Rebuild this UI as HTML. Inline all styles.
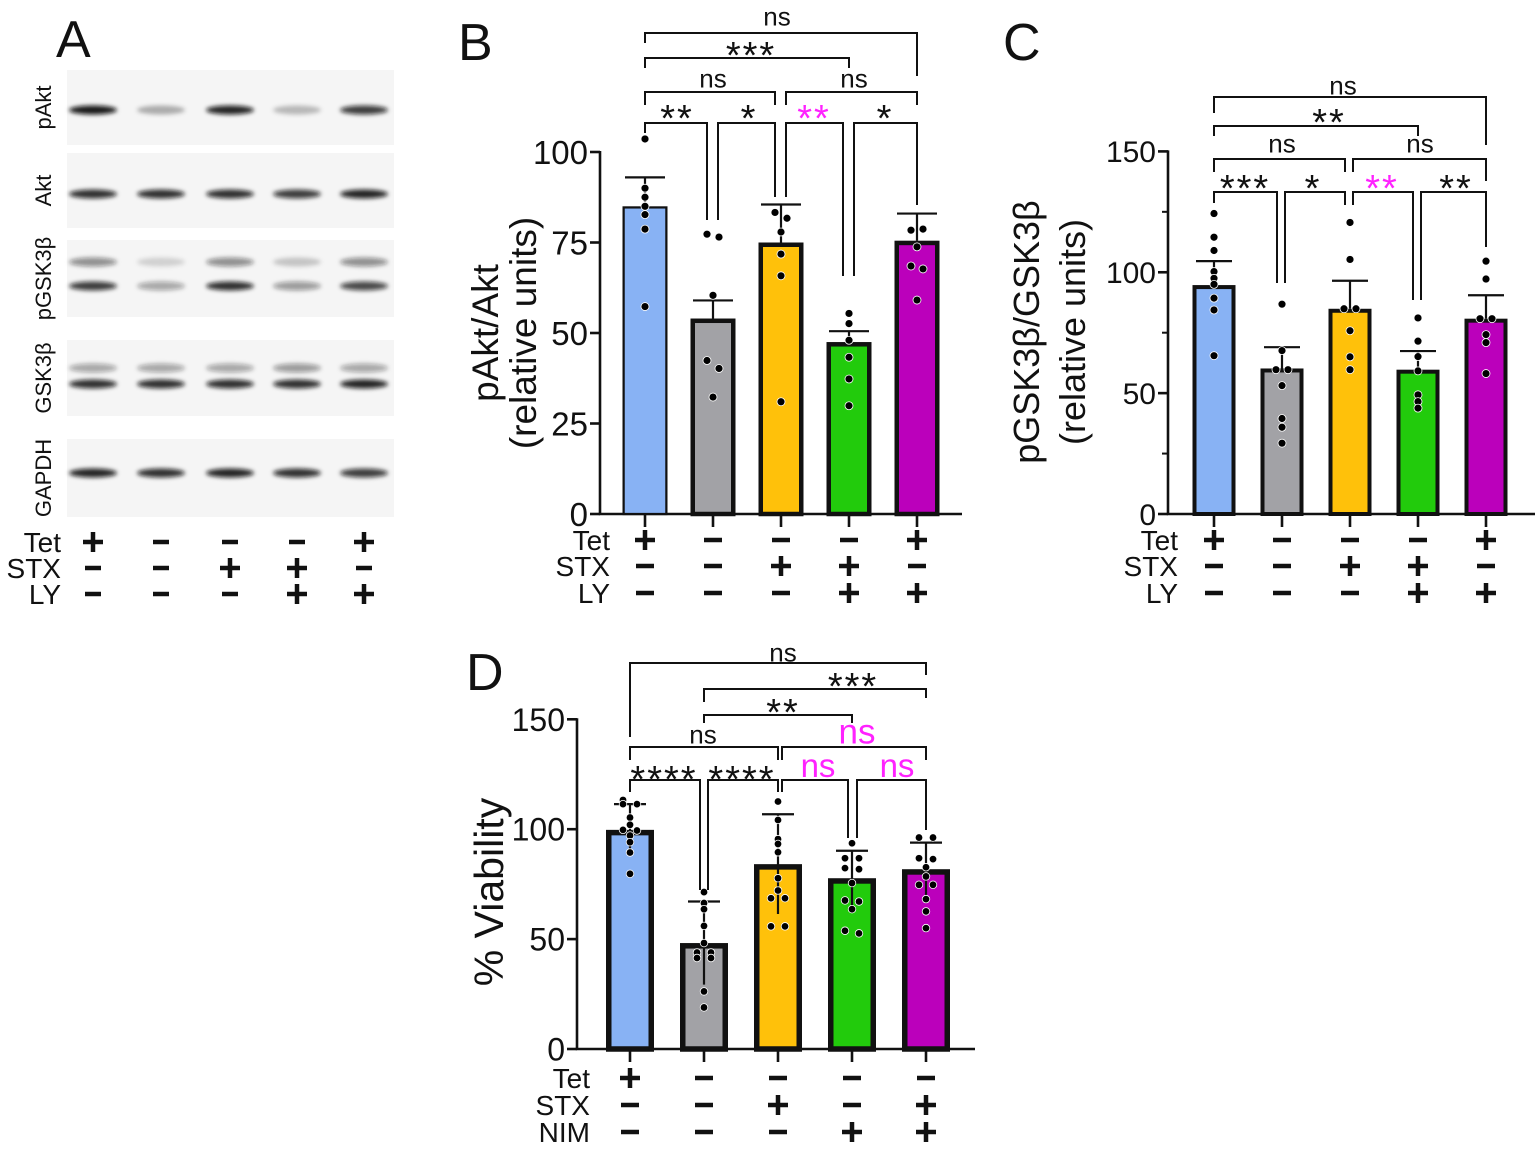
<!DOCTYPE html>
<html><head><meta charset="utf-8"><style>
html,body{margin:0;padding:0;background:#fff;}
svg{display:block;font-family:"Liberation Sans",Arial,sans-serif;}
</style></head><body>
<svg id="fig" width="1535" height="1152" viewBox="0 0 1535 1152" xmlns="http://www.w3.org/2000/svg">
<defs><filter id="blur" x="-20%" y="-200%" width="140%" height="500%"><feGaussianBlur stdDeviation="2.2"/></filter></defs>
</svg>
<script>
// ---------- DATA ----------
const colors = ["#88b2f4","#a2a2a6","#ffc10a","#22cb0c","#bb00bb"];
// Panel B
const bMeans = [85, 54, 75, 47.5, 75.5];
const bErr = [8, 5, 10.5, 3, 7.5];
const bPoints = [[103.6,90,87.5,85,82.7,78.7,57.3],[77.3,76.5,60.4,42.4,40.2,32.3],[83.3,81.7,77.9,71.8,65.8,31],[55.4,52.6,48,43.3,37.3,29.9],[78.4,78.7,73.8,68.5,67.7,59.1]];
const bTicks = [0,25,50,75,100];
const bRows = [["Tet","+","−","−","−","+"],["STX","−","−","+","+","−"],["LY","−","−","−","+","+"]];
// Panel C
const cMeans = [94.7, 60.2, 84.9, 59.7, 80.8];
const cErr = [9.9, 8.8, 11.6, 7.7, 9.7];
const cPoints = [[124.3,114.5,109,100.3,97.5,95,89.3,84.4,65.5],[86.8,67.6,59.7,59.7,53.1,39.5,35.9,29.3],[120.6,105.3,84.9,84.9,75.8,65,59.7],[81.1,71.5,65.1,59.2,49.3,46.5,43.8],[104.6,97.2,80.8,80.8,74.2,70.9,58.1]];
const cTicks = [0,50,100,150];
const cRows = bRows;
// Panel D
const dMeans = [99.7, 48.2, 84.1, 77.7, 81.8];
const dErr = [11.7, 18.9, 22.7, 12.5, 12.1];
const dPoints = [[113.3,111.4,111.4,105.3,102,99.7,99.4,97.1,94.1,89.4,79.7],[71.4,66.4,63.6,56,48.2,43.9,43.9,41.4,41.4,26.2,18.9],[112.6,104.2,95.5,93.3,89.5,77.7,72.1,68.6,68.6,55.8,55.8],[93.6,86.8,86.8,82.3,81.8,75.5,67.6,67.1,63.6,53.8,52.6],[96.2,96.2,86.8,86.4,82.7,78.5,74.7,74.7,68.2,62.6,55]];
const dTicks = [0,50,100,150];
const dRows = [["Tet","+","−","−","−","−"],["STX","−","−","+","−","+"],["NIM","−","−","−","+","+"]];

// ---------- helpers ----------
const svg = document.getElementById('fig');
const NS = "http://www.w3.org/2000/svg";
function mk(tag, attrs, parent){
  const e = document.createElementNS(NS, tag);
  for (const k in attrs) e.setAttribute(k, attrs[k]);
  (parent||svg).appendChild(e);
  return e;
}
function txt(s, x, y, size, parent, extra){
  const t = mk('text', Object.assign({x:x, y:y, 'font-size':size, fill:'#111'}, extra||{}), parent);
  t.textContent = s;
  return t;
}

function panel(cfg){
  const g = mk('g', {});
  
  
  const yScale = v => cfg.y0 - (v/cfg.yMax)*(cfg.y0 - cfg.yTopPx);
  const xScale = i => cfg.x0c + i*cfg.step;
  const ax = mk('line',{x1:cfg.axX,y1:yScale(cfg.yMax)-1,x2:cfg.axX,y2:cfg.y0,stroke:'#111','stroke-width':cfg.axW},g);
  
  
  const xa = mk('line',{x1:cfg.axX-cfg.axW/2,y1:cfg.y0,x2:cfg.axEnd,y2:cfg.y0,stroke:'#111','stroke-width':cfg.axW},g);
  
  
  cfg.ticks.forEach(v=>{
    const y = yScale(v);
    mk('line',{x1:cfg.axX-10,y1:y,x2:cfg.axX,y2:y,stroke:'#111','stroke-width':cfg.axW},g);
    const t = txt(String(v), cfg.axX-12, y+cfg.tickFs*0.36, cfg.tickFs, g, {'text-anchor':'end'});
    
    
  });
  (cfg.minor||[]).forEach(v=>{
    const y = yScale(v);
    mk('line',{x1:cfg.axX-6,y1:y,x2:cfg.axX,y2:y,stroke:'#111','stroke-width':2},g);
  });
  cfg.means.forEach((m,i)=>{
    const cx = xScale(i), w = cfg.bw, sw = (i===0 && cfg.firstThin) ? cfg.bsw*0.5 : cfg.bsw;
    const r = mk('rect',{x:cx-w/2+sw/2,y:yScale(m)+sw/2,width:w-sw,height:cfg.y0-yScale(m)-sw/2,fill:colors[i],stroke:'#111','stroke-width':sw},g);
    
    
    mk('line',{x1:cx,y1:cfg.y0,x2:cx,y2:cfg.y0+13,stroke:'#111','stroke-width':cfg.axW},g);
    const lo = cfg.symErr ? m - cfg.err[i] : m;
    const eb = mk('path',{d:`M${cx},${yScale(lo)} V${yScale(m+cfg.err[i])} M${cx-cfg.cap},${yScale(m+cfg.err[i])} H${cx+cfg.cap}`,stroke:'#111','stroke-width':2.2,fill:'none'},g);
    
    
    const pts = cfg.points[i];
    pts.forEach((v,j)=>{
      let off = 0;
      const near = pts.filter((u,k)=>k!==j && Math.abs(u-v)<2.2).length;
      if (near>0){ const idx = pts.slice(0,j).filter(u=>Math.abs(u-v)<2.2).length; off = (idx%2===0?-1:1)*cfg.jit; }
      const c = mk('circle',{cx:cx+off,cy:yScale(v),r:cfg.pr,fill:'#000',stroke:'#fff','stroke-width':0.8},g);
      
      
    });
  });
  cfg.rows.forEach((row,ri)=>{
    const y = cfg.rowY[ri];
    const l = txt(row[0], cfg.rowLabX, y+10, 28, g, {'text-anchor':'end'});
    
    
    row.slice(1).forEach((s,i)=>{
      const cx = xScale(i);
      if (s==='+'){
        mk('path',{d:`M${cx-10},${y} H${cx+10} M${cx},${y-10} V${y+10}`,stroke:'#111','stroke-width':4.5},g);
      } else {
        mk('line',{x1:cx-9,y1:y,x2:cx+9,y2:y,stroke:'#111','stroke-width':4.5},g);
      }
    });
  });
  cfg.brackets.forEach(b=>{
    const [xi, xj, ly, lEnd, rEnd, label, lx, labY, col, fs] = b;
    const x1 = xi<10 ? xScale(xi) : xi;
    const x2 = xj<10 ? xScale(xj) : xj;
    const p = mk('path',{d:`M${x1},${lEnd} V${ly} H${x2} V${rEnd}`,stroke:'#111','stroke-width':2,fill:'none'},g);
    
    
    const isStar = label.indexOf('*')>=0;
    const f = isStar ? 38 : (fs||26);
    const t = txt(label, lx, labY + (isStar ? f*0.575 : f*0.36), f, g, {'text-anchor':'middle', fill: col||'#111', 'letter-spacing': isStar? '2':'0'});
    
    
  });
  const tg = mk('g',{transform:`translate(${cfg.titleX},${cfg.titleY}) rotate(-90)`},g);
  cfg.title.forEach((s,k)=>{
    const t = txt(s, 0, k*cfg.titleLH, cfg.titleFs, tg, {'text-anchor':'middle'});
    
    
  });
  const pl = txt(cfg.letter, cfg.letterX, cfg.letterY, 52, g);
  
  
}

// ---------- Panel A (western blots) ----------
const bandRows = [
  {name:'pAkt', y:[70,145], bands:[[110,[0.95,0.3,0.9,0.25,0.8]]]},
  {name:'Akt', y:[153,228], bands:[[194,[0.85,0.85,0.85,0.8,0.9]]]},
  {name:'pGSK3β', y:[240,317], bands:[[262,[0.45,0.15,0.45,0.2,0.45]],[286,[0.8,0.35,0.85,0.4,0.75]]]},
  {name:'GSK3β', y:[340,416], bands:[[368,[0.35,0.35,0.35,0.4,0.35]],[384,[0.85,0.85,0.85,0.85,0.9]]]},
  {name:'GAPDH', y:[439,517], bands:[[473,[0.9,0.85,0.9,0.85,0.8]]]}
];
const laneX = [93,161,230,297,364];
(function(){
  const g = mk('g',{});
  
  
  const L = txt('A', 56, 57, 52, g);
  
  
  bandRows.forEach(r=>{
    const box = mk('rect',{x:67,y:r.y[0],width:327,height:r.y[1]-r.y[0],fill:'#f5f5f5'},g);
    
    
    r.bands.forEach(([by,ints])=>{
      ints.forEach((a,i)=>{
        mk('ellipse',{cx:laneX[i],cy:by,rx:24,ry:4.5,fill:'#111','fill-opacity':a,filter:'url(#blur)'},g);
      });
    });
    const cy = (r.y[0]+r.y[1])/2;
    const t = txt(r.name, 0, 0, 22, g, {transform:`translate(51,${cy}) rotate(-90)`,'text-anchor':'middle'});
    
    
  });
  const rowYA=[542,568,594];
  bRows.forEach((row,ri)=>{
    const y=rowYA[ri];
    const l = txt(row[0], 61, y+10, 28, g, {'text-anchor':'end'});
    
    
    row.slice(1).forEach((s,i)=>{
      const cx = laneX[i];
      if (s==='+') mk('path',{d:`M${cx-10},${y} H${cx+10} M${cx},${y-10} V${y+10}`,stroke:'#111','stroke-width':4.5},g);
      else mk('line',{x1:cx-8,y1:y,x2:cx+8,y2:y,stroke:'#111','stroke-width':4.5},g);
    });
  });
})();

// ---------- Panel B ----------
panel({name:'panel-b', letter:'B', letterX:458, letterY:60,
  means:bMeans, err:bErr, points:bPoints, ticks:bTicks, rows:bRows,
  yMax:100, y0:514, yTopPx:152, axX:600, axEnd:962, axW:2.6, tickFs:33,
  x0c:645, step:68, bw:45, bsw:4.5, firstThin:true, cap:20, pr:4, jit:6,
  symErr:false, rowY:[540,566,593], rowLabX:610,
  title:['pAkt/Akt','(relative units)'], titleX:498, titleY:333, titleLH:38, titleFs:37,
  brackets:[
    [0,707,123,133,220,'**',677,109],
    [718,775,123,220,197,'*',749,109],
    [786,843,123,197,276,'**',814,109,'#ff22ff'],
    [854,4,123,276,205,'*',885,109],
    [0,775,92,105,105,'ns',713,78],
    [786,4,92,105,105,'ns',854,78],
    [0,3,58,68,68,'***',751,46],
    [0,4,33,43,76,'ns',777,16]
  ]});
// ---------- Panel C ----------
panel({name:'panel-c', letter:'C', letterX:1003, letterY:60,
  means:cMeans, err:cErr, points:cPoints, ticks:cTicks, minor:[25,75,125], rows:cRows,
  yMax:150, y0:514, yTopPx:151.4, axX:1168, axEnd:1535, axW:2.6, tickFs:30,
  x0c:1214, step:68, bw:43, bsw:4, firstThin:false, cap:18, pr:4, jit:6,
  symErr:false, rowY:[540,566,593], rowLabX:1178,
  title:['pGSK3β/GSK3β','(relative units)'], titleX:1039, titleY:332, titleLH:46, titleFs:36,
  brackets:[
    [0,1277,192,203,283,'***',1245,179],
    [1285,1345,192,283,205,'*',1313,179],
    [1353,1413,192,205,300,'**',1382,179,'#ff22ff'],
    [1421,4,192,300,247,'**',1456,179],
    [0,1345,159,172,172,'ns',1282,143],
    [1353,4,159,172,181,'ns',1420,143],
    [0,3,126,136,136,'**',1329,113],
    [0,4,97,113,145,'ns',1343,85]
  ]});
// ---------- Panel D ----------
panel({name:'panel-d', letter:'D', letterX:466, letterY:690,
  means:dMeans, err:dErr, points:dPoints, ticks:dTicks, rows:dRows,
  yMax:150, y0:1049, yTopPx:719.3, axX:577, axEnd:975, axW:2.6, tickFs:32,
  x0c:630, step:74, bw:48, bsw:5.5, firstThin:false, cap:16, pr:3.8, jit:7,
  symErr:true, rowY:[1078,1105,1132], rowLabX:590,
  title:['% Viability'], titleX:503, titleY:892, titleLH:0, titleFs:41,
  brackets:[
    [0,700,780,792,890,'****',664,770],
    [708,2,780,890,792,'****',742,770],
    [782,848,780,792,838,'ns',818,765,'#ff22ff',33],
    [857,4,780,838,830,'ns',897,765,'#ff22ff',33],
    [0,2,747,760,760,'ns',703,734],
    [782,4,747,760,760,'ns',857,731,'#ff22ff',35],
    [1,3,715,723,723,'**',783,703],
    [1,4,689,702,698,'***',853,677],
    [0,4,663,737,675,'ns',783,652]
  ]});
</script>
</body></html>
